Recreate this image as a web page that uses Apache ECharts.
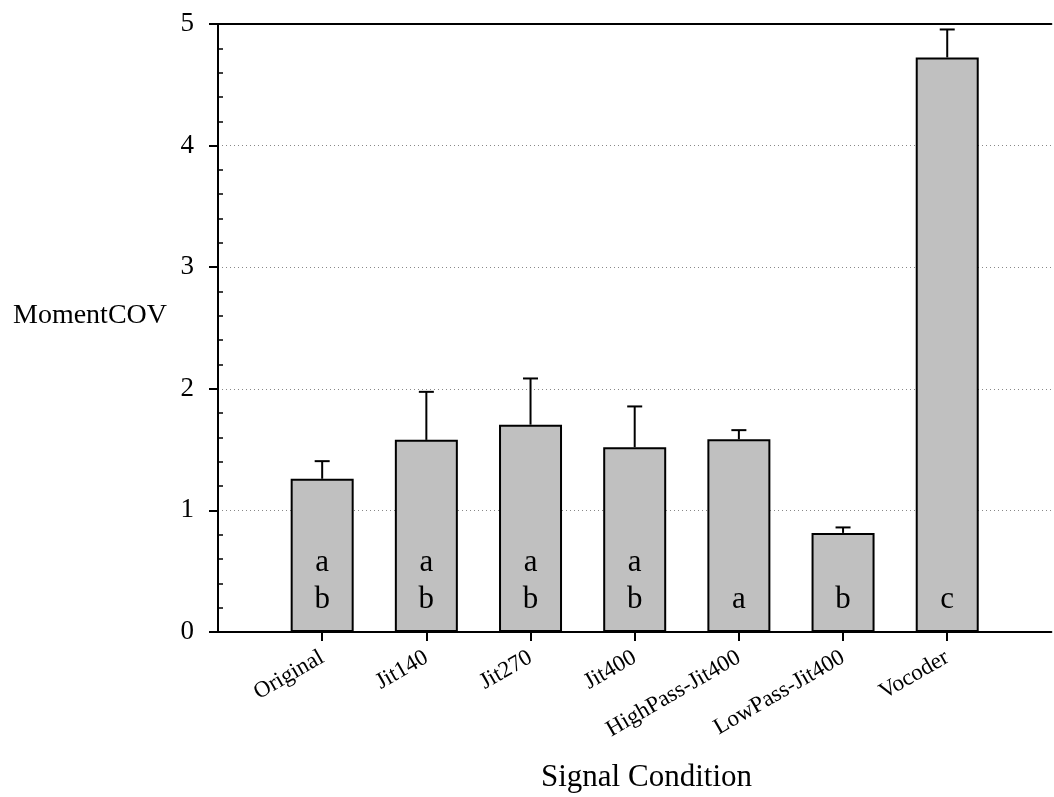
<!DOCTYPE html>
<html>
<head>
<meta charset="utf-8">
<script src="https://cdn.jsdelivr.net/npm/echarts@6/dist/echarts.min.js"></script>
<style>
html,body{margin:0;padding:0;background:#fff;}
#chart{width:1054px;height:797px;}
</style>
</head>
<body>
<div id="chart"></div>
<script>
// Data
var categories = ['Original', 'Jit140', 'Jit270', 'Jit400', 'HighPass-Jit400', 'LowPass-Jit400', 'Vocoder'];
var means = [1.26, 1.58, 1.705, 1.52, 1.585, 0.815, 4.725];
var errTop = [1.405, 1.975, 2.085, 1.855, 1.66, 0.86, 4.955];
var letters = ['a\nb', 'a\nb', 'a\nb', 'a\nb', 'a', 'b', 'c'];
var yTicks = [0, 1, 2, 3, 4, 5];

var FONT = "'Liberation Serif', 'Times New Roman', serif";
// axis categories padded with empty slots on both ends
var axisCats = [''].concat(categories).concat(['']);
var barData = [null].concat(means).concat([null]);
var errData = means.map(function (m, i) { return [i + 1, m, errTop[i]]; });

var chart = echarts.init(document.getElementById('chart'), null, { renderer: 'canvas' });
chart.setOption({
  animation: false,
  backgroundColor: '#fff',
  grid: { left: 218, right: -10, top: 24, bottom: 165, containLabel: false },
  xAxis: [{
    type: 'category',
    data: axisCats,
    boundaryGap: false,
    axisLine: { show: true, onZero: false, lineStyle: { color: '#000', width: 2 } },
    axisTick: { show: true, length: 9, lineStyle: { color: '#000', width: 2 },
      interval: function (i) { return i >= 1 && i <= categories.length; } },
    axisLabel: { interval: 0, rotate: 30, margin: 24, fontFamily: FONT, fontSize: 23, color: '#000' },
    splitLine: { show: false }
  }, {
    type: 'category',
    position: 'top',
    data: axisCats,
    boundaryGap: false,
    axisLine: { show: true, onZero: false, lineStyle: { color: '#000', width: 2 } },
    axisTick: { show: false },
    axisLabel: { show: false },
    splitLine: { show: false }
  }],
  yAxis: [{
    type: 'value',
    min: yTicks[0],
    max: yTicks[yTicks.length - 1],
    interval: 1,
    axisLine: { show: true, lineStyle: { color: '#000', width: 2 } },
    axisTick: { show: true, length: 9, lineStyle: { color: '#000', width: 2 } },
    axisLabel: { margin: 24, fontFamily: FONT, fontSize: 27, color: '#000' },
    splitLine: { show: true, lineStyle: { color: '#888', width: 1, type: [1, 3] } }
  }, {
    type: 'value',
    min: 0,
    max: 5,
    interval: 1,
    position: 'left',
    axisLine: { show: false },
    axisTick: { show: false, inside: true },
    minorTick: { show: true, splitNumber: 5, length: 5, lineStyle: { color: '#000', width: 1.5 } },
    axisLabel: { show: false },
    splitLine: { show: false }
  }],
  series: [{
    type: 'bar',
    data: barData.map(function (v, i) {
      return v === null ? null : { value: v, label: { formatter: letters[i - 1] } };
    }),
    barWidth: 63,
    itemStyle: { color: '#c0c0c0', borderColor: '#000', borderWidth: 2 },
    label: {
      show: true, position: 'insideBottom', distance: 14,
      fontFamily: FONT, fontSize: 31, lineHeight: 37, color: '#000', align: 'center'
    },
    z: 3
  }, {
    type: 'custom',
    data: errData,
    z: 4,
    renderItem: function (params, api) {
      var x = api.value(0);
      var p0 = api.coord([x, api.value(1)]);
      var p1 = api.coord([x, api.value(2)]);
      var cap = 7.5;
      return {
        type: 'group',
        children: [{
          type: 'line',
          shape: { x1: p0[0], y1: p0[1], x2: p1[0], y2: p1[1] },
          style: { stroke: '#000', lineWidth: 2 }
        }, {
          type: 'line',
          shape: { x1: p1[0] - cap, y1: p1[1], x2: p1[0] + cap, y2: p1[1] },
          style: { stroke: '#000', lineWidth: 2 }
        }]
      };
    }
  }],
  graphic: [{
    type: 'text', left: 13, top: 302,
    style: { text: 'MomentCOV', font: '28px ' + FONT, fill: '#000' }
  }, {
    type: 'text', left: 541, top: 762,
    style: { text: 'Signal Condition', font: '31px ' + FONT, fill: '#000' }
  }]
});
</script>
</body>
</html>
